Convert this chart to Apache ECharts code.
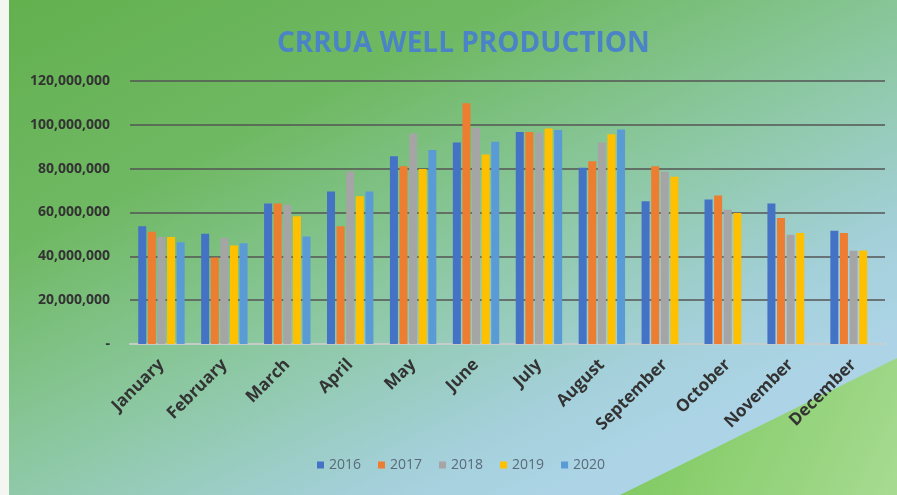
<!DOCTYPE html>
<html>
<head>
<meta charset="utf-8">
<script src="https://cdn.jsdelivr.net/npm/echarts@6/dist/echarts.min.js"></script>
<style>
  html, body { margin: 0; padding: 0; background: #fff; }
  #wellChart { width: 897px; height: 495px; }
</style>
</head>
<body>
<div id="wellChart"></div>
<script>
// months on the x axis
var months = ['January','February','March','April','May','June','July','August','September','October','November','December'];
var years = ['2016','2017','2018','2019','2020'];
// production per year
var prod2016 = [53700000, 50300000, 64100000, 69600000, 85700000, 91900000, 96700000, 80400000, 65100000, 65900000, 64100000, 51700000];
var prod2017 = [51200000, 39500000, 64100000, 53700000, 81100000, 109800000, 96700000, 83400000, 81100000, 67700000, 57500000, 50700000];
var prod2018 = [48800000, 48400000, 63500000, 78700000, 96100000, 98700000, 96400000, 91900000, 78600000, 61300000, 49900000, 42600000];
var prod2019 = [48800000, 44900000, 58300000, 67400000, 79900000, 86500000, 98300000, 95700000, 76300000, 59800000, 50700000, 42700000];
var prod2020 = [46400000, 46000000, 49100000, 69600000, 88500000, 92300000, 97600000, 97900000, null, null, null, null];
var yTicks = [0, 20000000, 40000000, 60000000, 80000000, 100000000, 120000000];

var barColors = ['#4472C4','#ED7D31','#A5A5A5','#FFC000','#5B9BD5'];
var allData = [prod2016, prod2017, prod2018, prod2019, prod2020];

var chart = echarts.init(document.getElementById('wellChart'));

var seriesList = [];
for (var i = 0; i < years.length; i++) {
	seriesList.push({
		name: years[i],
		type: 'bar',
		barWidth: 8,
		barGap: '20%',
		itemStyle: { color: barColors[i] },
		data: allData[i]
	});
}

var option = {
	backgroundColor: {
		type: 'linear', x: 0, y: 0, x2: 300, y2: 620, global: true,
		colorStops: [
			{ offset: 0, color: '#62b04e' },
			{ offset: 0.34, color: '#70b964' },
			{ offset: 0.6, color: '#8ac79d' },
			{ offset: 0.87, color: '#a4d0da' },
			{ offset: 1, color: '#acd4e6' }
		]
	},
	graphic: [
		{
			type: 'polygon',
			z: -10,
			silent: true,
			shape: { points: [[620, 495], [897, 358], [897, 495]] },
			style: {
				fill: {
					type: 'linear', x: 0, y: 0, x2: 1, y2: 1,
					colorStops: [
						{ offset: 0, color: '#78c658' },
						{ offset: 1, color: '#a7db92' }
					]
				}
			}
		},
		{
			type: 'rect', z: -9, silent: true,
			shape: { x: 0, y: 0, width: 9, height: 495 },
			style: { fill: '#f4f6f2' }
		}
	],
	title: {
		text: 'CRRUA WELL PRODUCTION',
		left: 272,
		top: 25,
		textStyle: {
			color: '#4a84c6',
			fontFamily: 'Open Sans',
			fontWeight: 'bold',
			fontSize: 28
		}
	},
	legend: {
		data: years,
		bottom: 18,
		left: 312,
		icon: 'rect',
		itemWidth: 7,
		itemHeight: 7,
		itemGap: 17,
		textStyle: { color: '#5a6a78', fontFamily: 'Open Sans', fontSize: 14 }
	},
	grid: {
		left: 130,
		right: 12,
		top: 81,
		bottom: 151
	},
	xAxis: {
		type: 'category',
		data: months,
		axisLine: { lineStyle: { color: '#e4ece8', width: 1.5 } },
		axisTick: { show: false },
		axisLabel: {
			rotate: 45,
			margin: 18,
			interval: 0,
			color: '#333',
			fontFamily: 'Open Sans',
			fontWeight: 'bold',
			fontSize: 17
		}
	},
	yAxis: {
		type: 'value',
		min: yTicks[0],
		max: yTicks[yTicks.length - 1],
		interval: yTicks[1] - yTicks[0],
		axisLine: { show: false },
		axisTick: { show: false },
		splitLine: { lineStyle: { color: '#555', width: 1.5 } },
		axisLabel: {
			margin: 20,
			color: '#333',
			fontFamily: 'Open Sans',
			fontWeight: 'bold',
			fontSize: 14,
			formatter: function (v) {
				if (v == 0) { return '-'; }
				return v.toLocaleString('en-US');
			}
		}
	},
	series: seriesList
};
chart.setOption(option);
</script>
</body>
</html>
